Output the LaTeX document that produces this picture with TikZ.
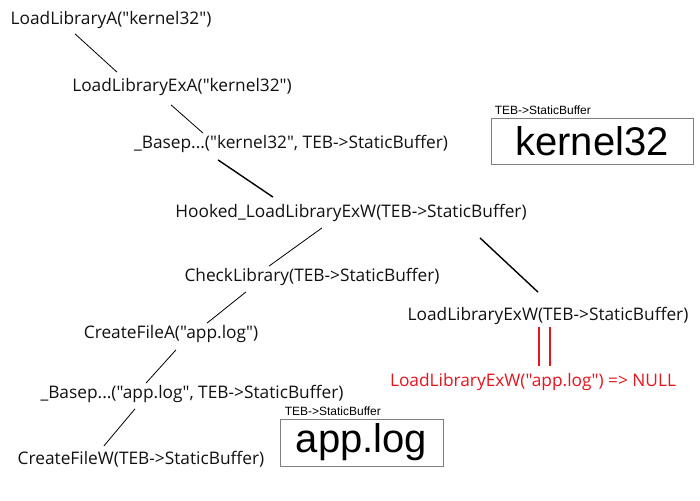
\documentclass[tikz,border=0pt]{standalone}
\usepackage{fontspec}
\setmainfont{Open Sans}[Ligatures=TeXOff]
\newfontfamily\boxfont{Liberation Sans}[Ligatures=TeXOff]
\usetikzlibrary{positioning}
\definecolor{calltext}{HTML}{111111}
\definecolor{failred}{HTML}{E8141B}
\definecolor{boxgray}{HTML}{808080}

\begin{document}
\begin{tikzpicture}[x=1pt, y=-1pt,
    call/.style={font=\fontsize{17.3}{19}\selectfont, inner sep=2pt, color=calltext},
    link/.style={line width=0.8pt},
    heavylink/.style={line width=1.4pt},
    failbar/.style={failred, line width=2.6pt},
    membox/.style={draw=boxgray, line width=0.9pt, inner sep=0pt, font=\boxfont\fontsize{40}{42}\selectfont},
    buflabel/.style={font=\boxfont\fontsize{12}{13}\selectfont, inner sep=0pt}]
    \useasboundingbox (0,0) rectangle (700,500);

    % Call chain, kernel32 side
    \node[call] (loadA) at (111,20) {LoadLibraryA("kernel32")};
    \node[call] (loadExA) at (182,87) {LoadLibraryExA("kernel32")};
    \node[call] (basepK) at (291,144) {\_Basep...("kernel32", TEB->StaticBuffer)};
    \node[call] (hooked) at (351,213) {Hooked\_LoadLibraryExW(TEB->StaticBuffer)};

    % Call chain, app.log side
    \node[call] (check) at (312,277) {CheckLibrary(TEB->StaticBuffer)};
    \node[call] (fileA) at (171,334) {CreateFileA("app.log")};
    \node[call] (basepA) at (192,394) {\_Basep...("app.log", TEB->StaticBuffer)};
    \node[call] (fileW) at (141,459) {CreateFileW(TEB->StaticBuffer)};

    % Real call after the hook
    \node[call] (loadExW) at (548,316) {LoadLibraryExW(TEB->StaticBuffer)};
    \node[call, color=failred] (result) at (533,382) {LoadLibraryExW("app.log") => NULL};

    % Links
    \draw[link] ([shift={(-36pt,-3pt)}]loadA.south) -- ([shift={(-65pt,4pt)}]loadExA.north);
    \draw[link] ([shift={(-11pt,-7pt)}]loadExA.south) -- ([xshift=-88pt]basepK.north);
    \draw[heavylink] ([shift={(-73pt,-5pt)}]basepK.south) -- ([shift={(-78pt,5pt)}]hooked.north);
    \draw[link] ([shift={(-29pt,-4pt)}]hooked.south) -- ([xshift=-43pt]check.north);
    \draw[link] ([shift={(-66pt,-4pt)}]check.south) -- ([xshift=36pt]fileA.north);
    \draw[link] ([shift={(5pt,-5pt)}]fileA.south) -- ([xshift=-46pt]basepA.north);
    \draw[link] ([shift={(-57pt,-4pt)}]basepA.south) -- ([shift={(-37pt,3pt)}]fileW.north);
    \draw[heavylink] ([shift={(129pt,-14pt)}]hooked.south) -- ([shift={(-10pt,13pt)}]loadExW.north);

    % Double bar
    \draw[failbar] ([xshift=-9pt]loadExW.south) -- ++(0,39);
    \draw[failbar] ([xshift=2pt]loadExW.south) -- ++(0,39);

    % StaticBuffer contents
    \node[membox, minimum width=202pt, minimum height=46pt] (kbox) at (592,141) {kernel32};
    \node[buflabel, anchor=south west] (klabel) at ([shift={(4pt,3pt)}]kbox.north west) {TEB->StaticBuffer};
    \node[membox, minimum width=163pt, minimum height=47pt] (abox) at (361.5,442.5) {app.log};
    \node[buflabel, anchor=south west] (alabel) at ([shift={(5pt,3pt)}]abox.north west) {TEB->StaticBuffer};
\end{tikzpicture}
\end{document}
